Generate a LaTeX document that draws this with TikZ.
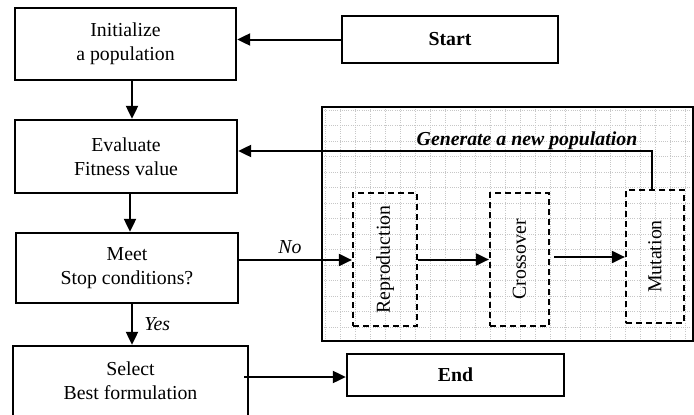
\documentclass[tikz,border=0pt]{standalone}
\usepackage{fontspec}
\setmainfont{Liberation Serif}
\usetikzlibrary{arrows.meta}
\begin{document}
\begin{tikzpicture}[x=1pt,y=-1pt,
  every node/.style={font=\fontsize{19.8}{24}\selectfont},
  box/.style={draw, line width=2.3pt, align=center, inner sep=0pt},
  dbox/.style={draw, line width=2.2pt, dash pattern=on 6pt off 4pt, inner sep=0pt},
  arr/.style={-{Triangle[length=13pt,width=12pt]}, line width=2pt},
  gridline/.style={draw=black!22, line width=0.9pt, dash pattern=on 1pt off 1.2pt}]
\clip (0,0) rectangle (694,415);
\useasboundingbox (0,0) rectangle (694,415);
% region
\begin{scope}
\clip (322,107) rectangle (693,341);
\foreach \gx in {325,340,...,690} \draw[gridline] (\gx,107) -- (\gx,341);
\foreach \gy in {110,125.5,...,340} \draw[gridline] (322,\gy) -- (693,\gy);
\end{scope}
\draw[line width=1.8pt] (322,107) rectangle (693,341);
\node[font=\fontsize{19.8}{24}\selectfont\bfseries\itshape] (gen) at (527,141) {Generate a new population};
% boxes
\node[box, minimum width=221pt, minimum height=72pt] (init) at (125.5,44) {Initialize\\a population};
\node[box, minimum width=216pt, minimum height=47pt, font=\fontsize{19.8}{24}\selectfont\bfseries] (start) at (450,39.5) {Start};
\node[box, minimum width=222pt, minimum height=73pt] (eval) at (126,156.5) {Evaluate\\Fitness value};
\node[box, minimum width=222pt, minimum height=70pt] (meet) at (127,268) {Meet\\Stop conditions?};
\node[box, minimum width=235pt, minimum height=70pt] (select) at (130.5,381) {Select\\Best formulation};
\node[box, minimum width=217pt, minimum height=42pt, font=\fontsize{19.8}{24}\selectfont\bfseries] (end) at (455.5,375) {End};
\node[dbox, minimum width=64pt, minimum height=133pt] (repro) at (385,259.5) {};
\node[rotate=90] (reprot) at (repro.center) {Reproduction};
\node[dbox, minimum width=59pt, minimum height=133pt] (cross) at (519.5,259.5) {};
\node[rotate=90] (crosst) at (cross.center) {Crossover};
\node[dbox, minimum width=58pt, minimum height=133pt] (mut) at (655,256.5) {};
\node[rotate=90] (mutt) at (mut.center) {Mutation};
% connectors
\draw[arr] (start.west) -- (start.west -| init.east);
\draw[arr] ([xshift=6.5pt]init.south) -- ([xshift=6.5pt]init.south |- eval.north);
\draw[arr] ([xshift=4pt]eval.south) -- ([xshift=4pt]eval.south |- meet.north);
\draw[arr] ([xshift=5pt]meet.south) -- ([xshift=5pt]meet.south |- select.north)
  node[midway, right=8pt, font=\fontsize{19.8}{24}\selectfont\itshape] (yes) {Yes};
\draw[arr] ([yshift=8pt]meet.east) -- ([yshift=8pt]meet.east -| repro.west)
  node[pos=0.45, above=2pt, font=\fontsize{19.8}{24}\selectfont\itshape] (no) {No};
\draw[arr] (repro.east) -- (repro.east -| cross.west);
\draw[arr] ([xshift=4pt,yshift=2.5pt]cross.east) -- ([yshift=2.5pt]cross.east -| mut.west);
\draw[arr] ([xshift=-3pt]mut.north) |- ([yshift=5.5pt]eval.east);
\draw[arr] ([xshift=-5pt,yshift=4pt]select.east) -- ([yshift=4pt]select.east -| end.west);
\end{tikzpicture}
\end{document}
